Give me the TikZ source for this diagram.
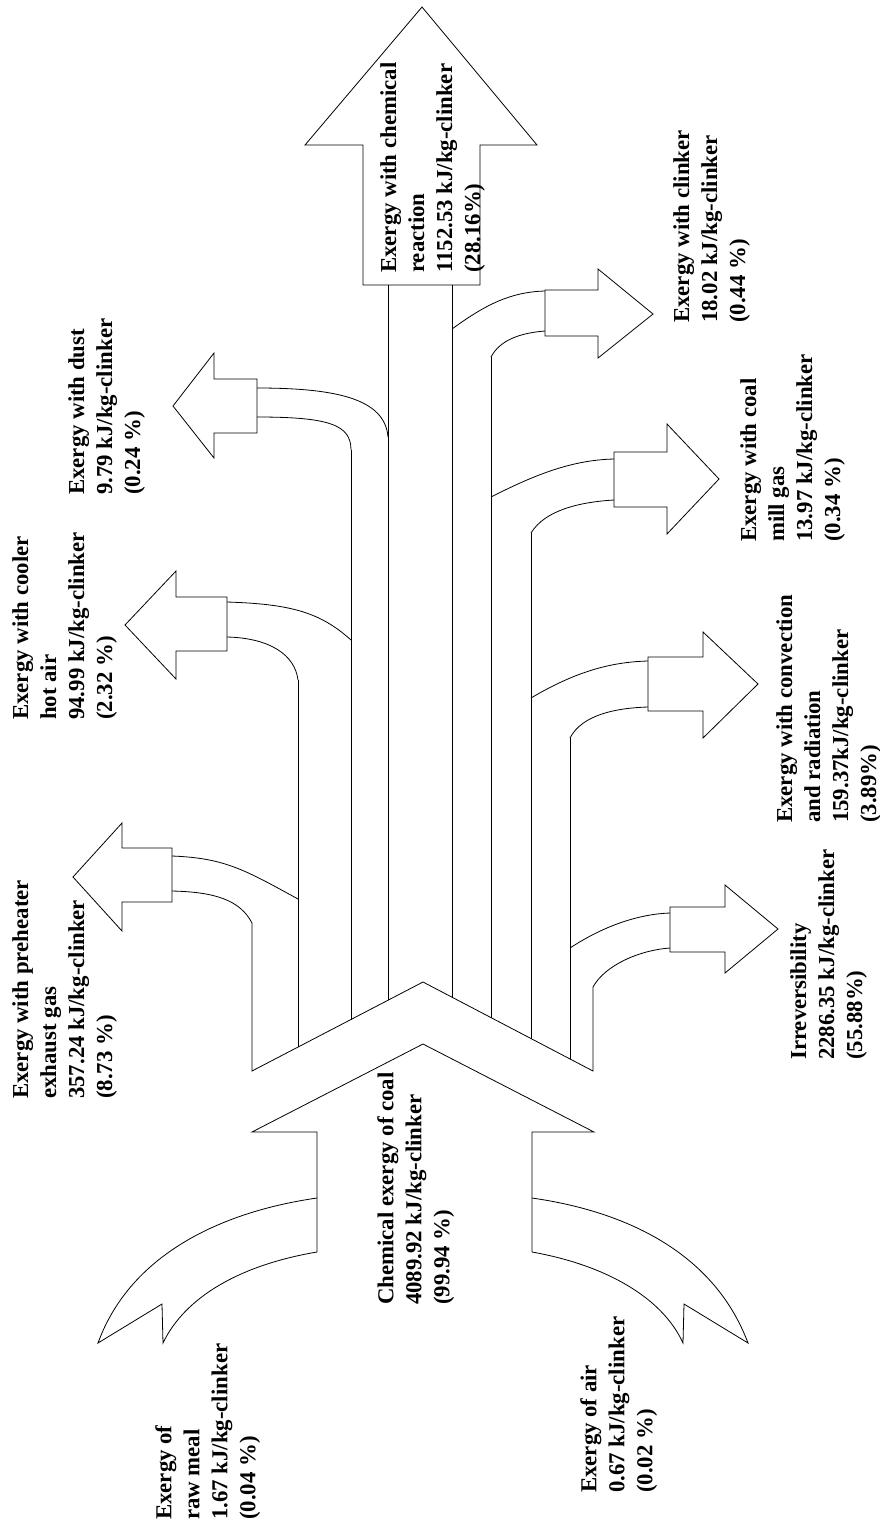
\documentclass[tikz,border=0pt]{standalone}
\usepackage{fontspec}
\setmainfont{Liberation Serif}
\begin{document}
\begin{tikzpicture}[x=1pt,y=-1pt,
  flow/.style={line width=0.8pt, line join=miter},
  lbl/.style={rotate=90, anchor=north west, inner sep=0pt, align=left,
    font=\fontsize{22.8}{28}\selectfont\bfseries}]
\useasboundingbox (0,0) rectangle (880,1527);

% ---- output: chemical reaction (big top arrow)
\draw[flow] (363,285)--(363,145)--(305,145)--(422,7)--(537,145)--(480,145)--(480,285)--cycle;

% ---- fan of vertical lines and chevron
\draw[flow] (252,923)--(252,1071)--(423,982)--(593,1071)--(593,987);
\draw[flow] (298,680)--(298,1047);
\draw[flow] (351,450)--(351,1019.5);
\draw[flow] (388,285)--(388,1000.2);
\draw[flow] (452,285)--(452,997.2);
\draw[flow] (491,357)--(491,1017.6);
\draw[flow] (531,533)--(531,1038.5);
\draw[flow] (570,738)--(570,1059);

% ---- left outputs
% preheater exhaust gas
\draw[flow] (172,848)--(122,848)--(122,823)--(73,877)--(122,931)--(122,902)--(172,902)--cycle;
\draw[flow] (172,856) .. controls (225,858) and (245,870) .. (298,899);
\draw[flow] (172,891) .. controls (215,892) and (240,900) .. (252,923);
% cooler hot air
\draw[flow] (227,597)--(176,597)--(176,571)--(125,625)--(176,679)--(176,651)--(227,651)--cycle;
\draw[flow] (227,602) .. controls (290,604) and (320,612) .. (351,640);
\draw[flow] (227,637) .. controls (270,638) and (295,655) .. (298,680);
% dust
\draw[flow] (257,379)--(214,379)--(214,353)--(173,406)--(214,458)--(214,433)--(257,433)--cycle;
\draw[flow] (257,388) .. controls (340,388) and (385,400) .. (388,437);
\draw[flow] (257,417) .. controls (330,417) and (351,425) .. (351,450);

% ---- right outputs
% clinker
\draw[flow] (545,290)--(598,290)--(598,269)--(653,314)--(598,358)--(598,336)--(545,336)--cycle;
\draw[flow] (452,329) .. controls (485,305) and (510,292) .. (545,291);
\draw[flow] (491,357) .. controls (500,340) and (520,333) .. (545,331);
% coal mill gas
\draw[flow] (614,452)--(667,452)--(667,424)--(719,479)--(667,534)--(667,507)--(614,507)--cycle;
\draw[flow] (491,497) .. controls (540,472) and (575,460) .. (614,459);
\draw[flow] (531,533) .. controls (545,510) and (580,502) .. (614,500);
% convection and radiation
\draw[flow] (648,657)--(703,657)--(703,632)--(758,684)--(703,738)--(703,711)--(648,711)--cycle;
\draw[flow] (531,698) .. controls (575,672) and (610,662) .. (648,661);
\draw[flow] (570,738) .. controls (582,715) and (615,708) .. (648,707);
% irreversibility
\draw[flow] (670,907)--(725,907)--(725,885)--(778,929)--(725,973)--(725,952)--(670,952)--cycle;
\draw[flow] (570,948) .. controls (605,925) and (640,914) .. (670,913);
\draw[flow] (593,987) .. controls (605,965) and (640,950) .. (670,948);

% ---- inputs
% coal
\draw[flow] (317,1252)--(317,1132)--(252,1132)--(423,1044)--(594,1132)--(532,1132)--(532,1252);
% raw meal
\draw[flow] (317,1198) .. controls (220,1212) and (130,1255) .. (98,1343) -- (162,1304) -- (163,1343)
  .. controls (185,1297) and (240,1265) .. (317,1252);
% air
\draw[flow] (532,1198) .. controls (630,1212) and (715,1255) .. (748,1343) -- (684,1304) -- (683,1343)
  .. controls (662,1297) and (605,1265) .. (532,1252);

% ---- labels
\node[lbl] (tchem) at (380,273) {Exergy with chemical\\reaction\\1152.53 kJ/kg-clinker\\(28.16\%)};
\node[lbl] (tpre) at (12,1099) {Exergy with preheater\\exhaust gas\\357.24 kJ/kg-clinker\\(8.73 \%)};
\node[lbl] (tcool) at (12,720) {Exergy with cooler\\hot air\\94.99 kJ/kg-clinker\\(2.32 \%)};
\node[lbl] (tdust) at (68,495) {Exergy with dust\\9.79 kJ/kg-clinker\\(0.24 \%)};
\node[lbl] (tclk) at (673,323) {Exergy with clinker\\18.02 kJ/kg-clinker\\(0.44 \%)};
\node[lbl] (tmill) at (740,542) {Exergy with coal\\mill gas\\13.97 kJ/kg-clinker\\(0.34 \%)};
\node[lbl] (tconv) at (776,823) {Exergy with convection\\and radiation\\159.37kJ/kg-clinker\\(3.89\%)};
\node[lbl] (tirr) at (790,1060) {Irreversibility\\2286.35 kJ/kg-clinker\\(55.88\%)};
\node[lbl] (tcoal) at (377,1305) {Chemical exergy of coal\\4089.92 kJ/kg-clinker\\(99.94 \%)};
\node[lbl] (traw) at (155,1520) {Exergy of\\raw meal\\1.67 kJ/kg-clinker\\(0.04 \%)};
\node[lbl] (tair) at (580,1493) {Exergy of air\\0.67 kJ/kg-clinker\\(0.02 \%)};
\end{tikzpicture}
\end{document}
